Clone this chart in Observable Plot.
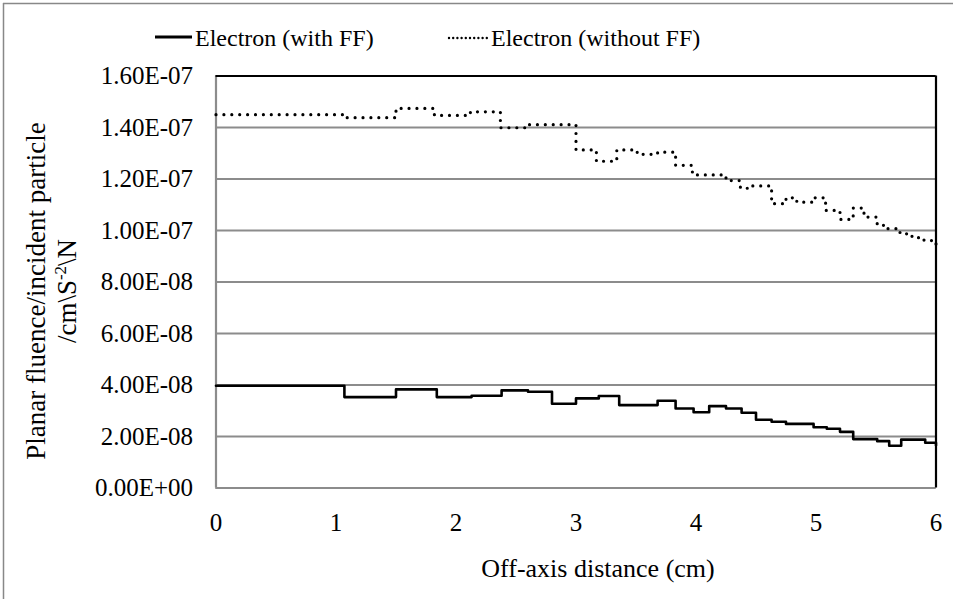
<!DOCTYPE html>
<html>
<head>
<meta charset="utf-8">
<script src="https://cdn.jsdelivr.net/npm/d3@7"></script>
<script src="https://cdn.jsdelivr.net/npm/@observablehq/plot@0.6"></script>
<style>
  html, body { margin: 0; padding: 0; background: #fff; }
  #chart { position: relative; width: 956px; height: 599px; overflow: hidden; }
  #chart svg { display: block; }
</style>
</head>
<body>
<div id="chart">
  <div id="leg1" style="position:absolute;left:195px;top:25.9px;font-family:'Liberation Serif';font-size:24px;line-height:1;white-space:nowrap;">Electron (with FF)</div>
  <div id="leg2" style="position:absolute;left:491px;top:25.9px;font-family:'Liberation Serif';font-size:24px;line-height:1;white-space:nowrap;">Electron (without FF)</div>
  <div id="xtitle" style="position:absolute;left:598px;top:556.2px;transform:translateX(-50%);font-family:'Liberation Serif';font-size:26px;line-height:1;white-space:nowrap;">Off-axis distance (cm)</div>
  <div id="ytitle" style="position:absolute;left:52.4px;top:291px;transform:translate(-50%,-50%) rotate(-90deg);font-family:'Liberation Serif';font-size:27px;line-height:31px;text-align:center;white-space:nowrap;">
    <div>Planar fluence/incident particle</div>
    <div>/cm\S<span style="position:relative;top:-10px;font-size:17px;line-height:0;">-2</span>\N</div>
  </div>
</div>
<script>
// Off-axis positions (cm) where each histogram bin starts, and the fluence of that bin.
const withFFX = [0, 1.07, 1.50, 1.84, 2.13, 2.38, 2.60, 2.80, 3.00, 3.19, 3.36, 3.68, 3.83, 3.98,
  4.11, 4.25, 4.38, 4.50, 4.63, 4.75, 4.98, 5.09, 5.20, 5.31, 5.51, 5.61, 5.71, 5.91, 6.00];
const withFFY = [3.97e-8, 3.53e-8, 3.83e-8, 3.53e-8, 3.58e-8, 3.79e-8, 3.74e-8, 3.27e-8, 3.48e-8,
  3.57e-8, 3.22e-8, 3.39e-8, 3.09e-8, 2.94e-8, 3.18e-8, 3.09e-8, 2.92e-8, 2.65e-8, 2.57e-8,
  2.49e-8, 2.36e-8, 2.30e-8, 2.18e-8, 1.90e-8, 1.82e-8, 1.64e-8, 1.88e-8, 1.76e-8, 1.65e-8];

const withoutFFX = [0, 1.08, 1.50, 1.82, 2.12, 2.37, 2.60, 3.00, 3.17, 3.34, 3.51, 3.68, 3.83, 3.97,
  4.25, 4.37, 4.47, 4.63, 4.75, 4.84, 4.98, 5.08, 5.20, 5.31, 5.40, 5.51, 5.60, 5.70, 5.80, 5.90, 6.00];
const withoutFFY = [1.450e-7, 1.438e-7, 1.474e-7, 1.447e-7, 1.461e-7, 1.399e-7, 1.411e-7, 1.313e-7,
  1.269e-7, 1.313e-7, 1.296e-7, 1.304e-7, 1.253e-7, 1.216e-7, 1.194e-7, 1.164e-7, 1.173e-7,
  1.104e-7, 1.127e-7, 1.110e-7, 1.127e-7, 1.078e-7, 1.043e-7, 1.087e-7, 1.052e-7, 1.020e-7,
  1.007e-7, 0.987e-7, 0.972e-7, 0.961e-7, 0.938e-7];

const xTicks = [0, 1, 2, 3, 4, 5, 6];
const yTicks = [0, 2e-8, 4e-8, 6e-8, 8e-8, 1e-7, 1.2e-7, 1.4e-7, 1.6e-7];

const withFF = withFFX.map((x, i) => ({x, y: withFFY[i]}));
const withoutFF = withoutFFX.map((x, i) => ({x, y: withoutFFY[i]}));

// Scientific tick labels in the 1.60E-07 style
function sci(d) {
  if (d === 0) return "0.00E+00";
  const [m, e] = d.toExponential(2).split("e");
  const n = +e;
  return m + "E" + (n < 0 ? "-" : "+") + String(Math.abs(n)).padStart(2, "0");
}

const GRID = "#8c8c8c";
const SERIF = "Liberation Serif";

const plot = Plot.plot({
  width: 956,
  height: 599,
  marginLeft: 215.5,
  marginRight: 20.5,
  marginTop: 75.5,
  marginBottom: 111.5,
  style: {color: "#000", background: "#fff", fontFamily: SERIF},
  x: {domain: [0, 6]},
  y: {domain: [0, 1.6e-7]},
  marks: [
    Plot.gridY(yTicks, {stroke: GRID, strokeOpacity: 1, strokeWidth: 2}),
    Plot.ruleX([0], {stroke: GRID, strokeWidth: 2.2}),
    Plot.ruleY([0], {stroke: GRID, strokeWidth: 2.2}),
    Plot.ruleY([1.6e-7], {stroke: "#000", strokeWidth: 2.2}),
    Plot.ruleX([6], {stroke: "#000", strokeWidth: 2.2}),
    Plot.line(withFF, {x: "x", y: "y", curve: "step-after", stroke: "#000", strokeWidth: 2.6}),
    Plot.line(withoutFF, {x: "x", y: "y", curve: "step-after", stroke: "#000", strokeWidth: 3.2,
      strokeDasharray: "0,7.9", strokeLinecap: "round"}),
    Plot.axisY(yTicks, {tickSize: 0, tickPadding: 23, tickFormat: sci, label: null, fontSize: 25,
      fontFamily: SERIF}),
    Plot.axisX(xTicks, {tickSize: 0, tickPadding: 25, tickFormat: d => String(d), label: null, fontSize: 25,
      fontFamily: SERIF})
  ]
});

const chart = document.getElementById("chart");
chart.insertBefore(plot, chart.firstChild);
const svg = d3.select(plot);

// Outer chart border (top and left edges)
svg.append("line").attr("x1", 3).attr("x2", 953).attr("y1", 3.5).attr("y2", 3.5)
  .attr("stroke", "#888").attr("stroke-width", 1.5);
svg.append("line").attr("x1", 3.5).attr("x2", 3.5).attr("y1", 3).attr("y2", 599)
  .attr("stroke", "#888").attr("stroke-width", 1.5);

// Legend swatches
svg.append("line").attr("x1", 155).attr("x2", 192).attr("y1", 37).attr("y2", 37)
  .attr("stroke", "#000").attr("stroke-width", 3);
svg.append("line").attr("x1", 449).attr("x2", 488).attr("y1", 38).attr("y2", 38)
  .attr("stroke", "#000").attr("stroke-width", 2.4)
  .attr("stroke-dasharray", "0,4.2").attr("stroke-linecap", "round");
</script>
</body>
</html>
